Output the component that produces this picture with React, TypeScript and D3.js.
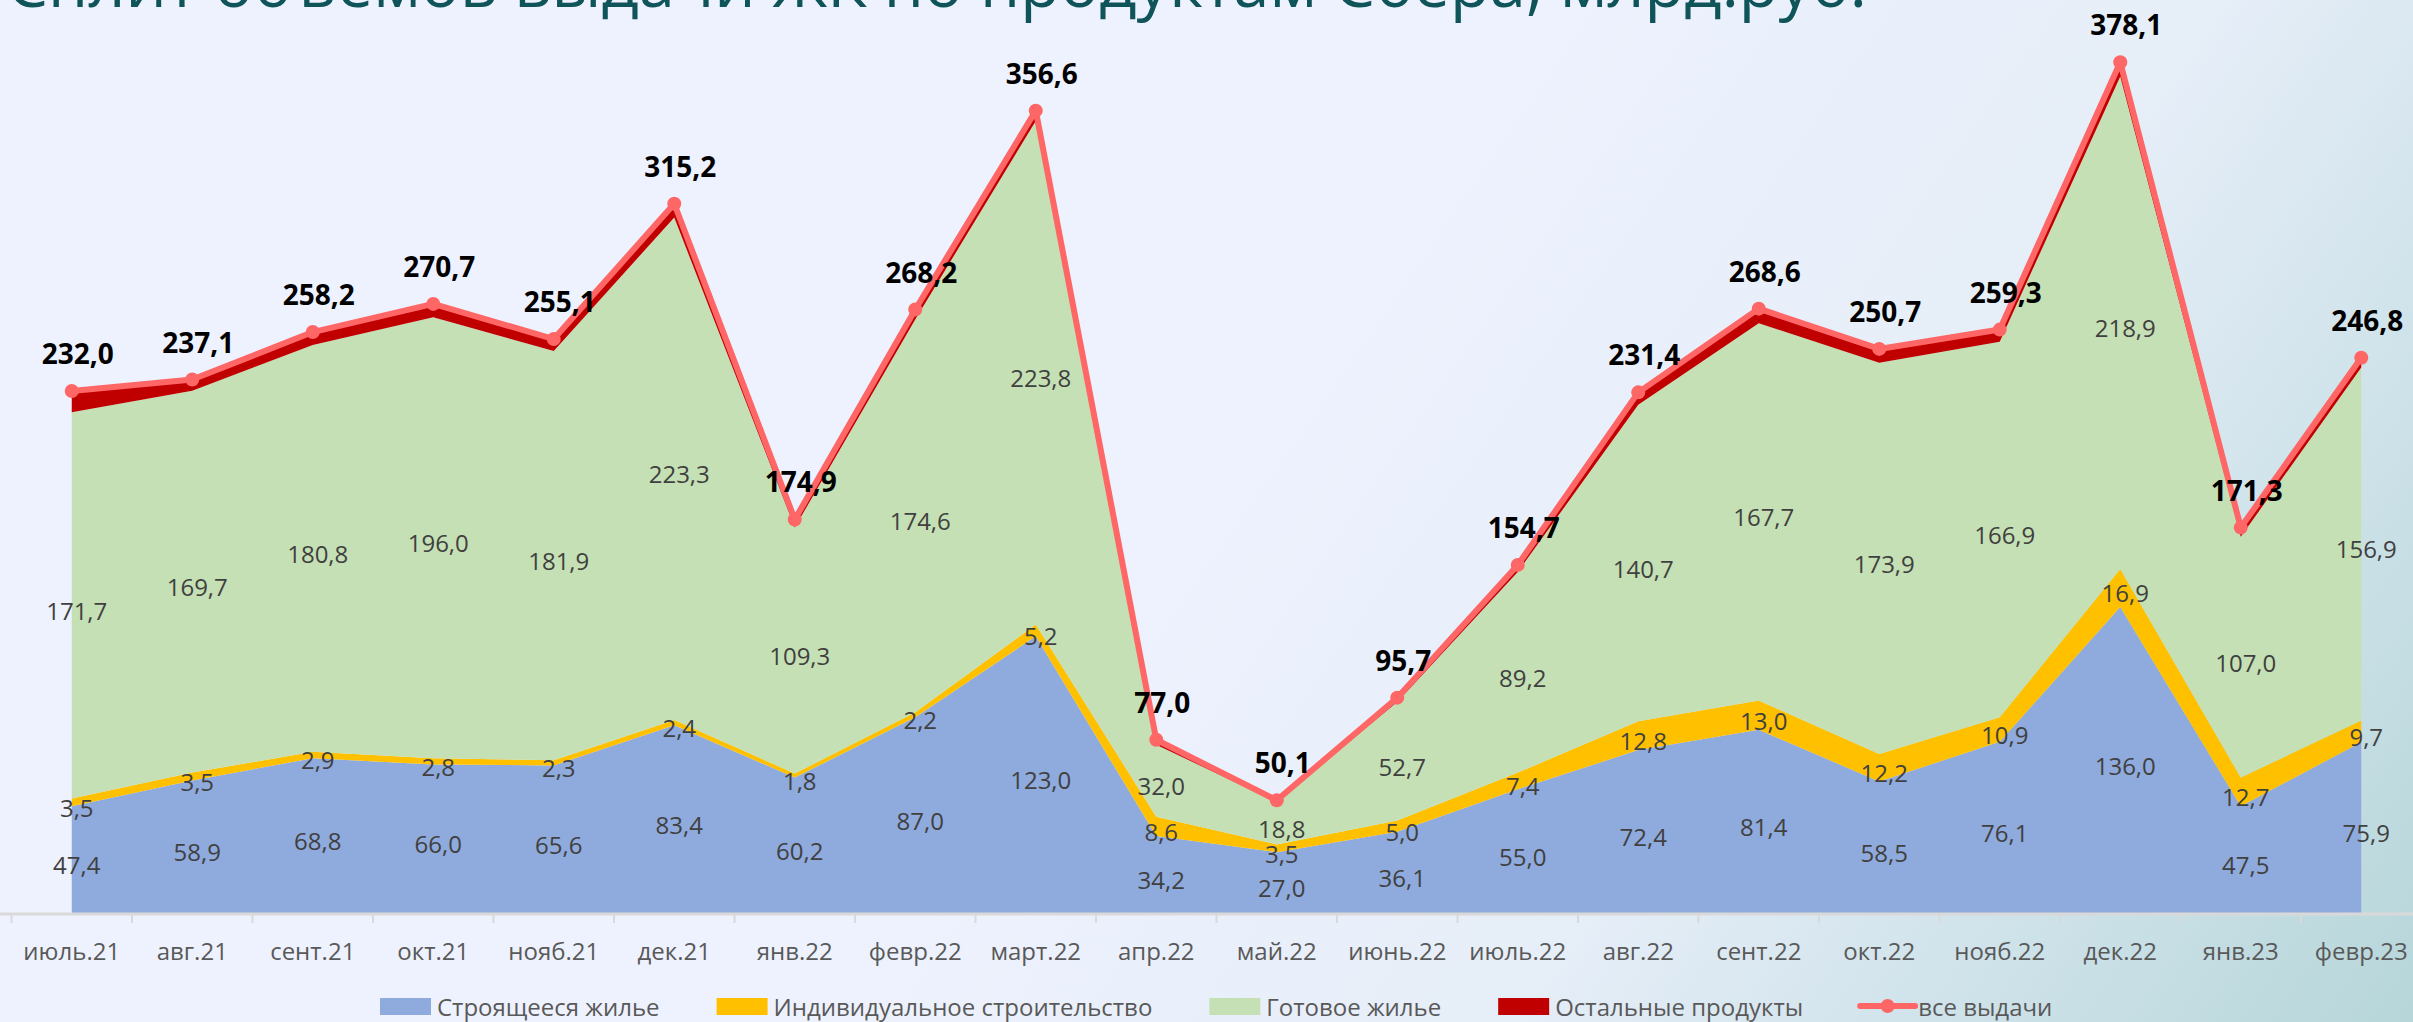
import React, { useEffect, useRef } from 'react';
import * as d3 from 'd3';

const title = 'Сплит объемов выдачи ЖК по продуктам Сбера, млрд.руб.';

const categories = [
  'июль.21', 'авг.21', 'сент.21', 'окт.21', 'нояб.21', 'дек.21', 'янв.22', 'февр.22', 'март.22', 'апр.22',
  'май.22', 'июнь.22', 'июль.22', 'авг.22', 'сент.22', 'окт.22', 'нояб.22', 'дек.22', 'янв.23', 'февр.23',
];

// Строящееся жилье
const building = [47.4, 58.9, 68.8, 66.0, 65.6, 83.4, 60.2, 87.0, 123.0, 34.2, 27.0, 36.1, 55.0, 72.4, 81.4, 58.5, 76.1, 136.0, 47.5, 75.9];
// Индивидуальное строительство
const individual = [3.5, 3.5, 2.9, 2.8, 2.3, 2.4, 1.8, 2.2, 5.2, 8.6, 3.5, 5.0, 7.4, 12.8, 13.0, 12.2, 10.9, 16.9, 12.7, 9.7];
// Готовое жилье
const ready = [171.7, 169.7, 180.8, 196.0, 181.9, 223.3, 109.3, 174.6, 223.8, 32.0, 18.8, 52.7, 89.2, 140.7, 167.7, 173.9, 166.9, 218.9, 107.0, 156.9];
// Остальные продукты (no labels on the chart, read as remainder)
const other = [9.4, 5.0, 5.7, 5.9, 5.3, 6.1, 3.6, 4.4, 4.6, 2.2, 0.8, 1.9, 3.1, 5.5, 6.5, 6.1, 5.4, 6.3, 4.1, 4.3];
// все выдачи
const total = [232.0, 237.1, 258.2, 270.7, 255.1, 315.2, 174.9, 268.2, 356.6, 77.0, 50.1, 95.7, 154.7, 231.4, 268.6, 250.7, 259.3, 378.1, 171.3, 246.8];

const seriesNames = ['Строящееся жилье', 'Индивидуальное строительство', 'Готовое жилье', 'Остальные продукты'];
const lineName = 'все выдачи';

const W = 2413;
const H = 1022;
const FONT = '"Open Sans", "DejaVu Sans", sans-serif';

const App = () => {
  const ref = useRef<SVGSVGElement>(null);

  useEffect(() => {
    const svg = d3.select(ref.current);
    svg.selectAll('*').remove();

    const colors = ['#8FAADC', '#FFC000', '#C5E0B4', '#C00000'];
    const lineColor = '#FF6666';
    const fmt = (v: number) => v.toFixed(1).replace('.', ',');

    // background
    const defs = svg.append('defs');
    const grad = defs.append('linearGradient')
      .attr('id', 'bg')
      .attr('gradientUnits', 'userSpaceOnUse')
      .attr('x1', 1300).attr('y1', 250).attr('x2', 2413).attr('y2', 1022);
    grad.append('stop').attr('offset', 0).attr('stop-color', '#EEF2FE');
    grad.append('stop').attr('offset', 0.45).attr('stop-color', '#E6EEF8');
    grad.append('stop').attr('offset', 1).attr('stop-color', '#B6D6DA');
    svg.append('rect').attr('width', W).attr('height', H).attr('fill', 'url(#bg)');

    // title, cut at the top like the slide
    svg.append('text')
      .attr('x', 7).attr('y', 7)
      .attr('font-family', FONT).attr('font-size', 65)
      .attr('fill', '#0F5459')
      .text(title);

    const x = d3.scaleBand().domain(categories).range([11.5, 11.5 + 120.5 * categories.length]);
    const cx = (c: string) => (x(c) as number) + x.bandwidth() / 2;
    const y = d3.scaleLinear().domain([0, 400]).range([913, 13]);

    const rows = categories.map((c, i) => ({
      cat: c,
      [seriesNames[0]]: building[i],
      [seriesNames[1]]: individual[i],
      [seriesNames[2]]: ready[i],
      [seriesNames[3]]: other[i],
    }));
    const stacked = d3.stack<any>().keys(seriesNames)(rows);

    const area = d3.area<any>()
      .x((d) => cx(d.data.cat))
      .y0((d) => y(d[0]))
      .y1((d) => y(d[1]));

    const g = svg.append('g');
    g.selectAll('path.area')
      .data(stacked)
      .enter()
      .append('path')
      .attr('class', 'area')
      .attr('d', (s) => area(s) as string)
      .attr('fill', (_, i) => colors[i]);

    // x axis
    const axis = svg.append('g');
    axis.append('line')
      .attr('x1', 0).attr('x2', W)
      .attr('y1', y(0) + 1).attr('y2', y(0) + 1)
      .attr('stroke', '#D9D9D9').attr('stroke-width', 3);
    axis.selectAll('line.tick')
      .data(categories)
      .enter()
      .append('line')
      .attr('class', 'tick')
      .attr('x1', (c) => x(c) as number).attr('x2', (c) => x(c) as number)
      .attr('y1', y(0) + 2).attr('y2', y(0) + 10)
      .attr('stroke', '#D9D9D9').attr('stroke-width', 2);
    axis.selectAll('text')
      .data(categories)
      .enter()
      .append('text')
      .attr('x', (c) => cx(c))
      .attr('y', 960)
      .attr('text-anchor', 'middle')
      .attr('font-family', FONT).attr('font-size', 24)
      .attr('fill', '#595959')
      .text((c) => c);

    // series value labels (first three series)
    const labelG = svg.append('g');
    stacked.slice(0, 3).forEach((s) => {
      labelG.selectAll(null)
        .data(s)
        .enter()
        .append('text')
        .attr('x', (d: any) => cx(d.data.cat) + 5)
        .attr('y', (d: any) => y((d[0] + d[1]) / 2) + 5)
        .attr('dominant-baseline', 'central')
        .attr('text-anchor', 'middle')
        .attr('font-family', FONT).attr('font-size', 24)
        .attr('fill', '#404040')
        .text((d: any) => fmt(d[1] - d[0]));
    });

    // total line
    const line = d3.line<number>()
      .x((_, i) => cx(categories[i]))
      .y((d) => y(d));
    svg.append('path')
      .attr('d', line(total) as string)
      .attr('fill', 'none')
      .attr('stroke', lineColor)
      .attr('stroke-width', 6)
      .attr('stroke-linejoin', 'round');
    svg.selectAll('circle.pt')
      .data(total)
      .enter()
      .append('circle')
      .attr('class', 'pt')
      .attr('cx', (_, i) => cx(categories[i]))
      .attr('cy', (d) => y(d))
      .attr('r', 7)
      .attr('fill', lineColor);
    svg.selectAll('text.total')
      .data(total)
      .enter()
      .append('text')
      .attr('class', 'total')
      .attr('x', (_, i) => cx(categories[i]) + 6)
      .attr('y', (d) => y(d) - 38)
      .attr('dominant-baseline', 'central')
      .attr('text-anchor', 'middle')
      .attr('font-family', FONT).attr('font-size', 28).attr('font-weight', 700)
      .attr('fill', '#000')
      .text((d) => fmt(d));

    // legend
    const ctx = document.createElement('canvas').getContext('2d') as CanvasRenderingContext2D;
    ctx.font = `24px ${FONT}`;
    const items = [
      ...seriesNames.map((n, i) => ({ name: n, color: colors[i], kind: 'rect' })),
      { name: lineName, color: lineColor, kind: 'line' },
    ];
    const legend = svg.append('g');
    let lx = 380;
    const ly = 1006;
    items.forEach((it) => {
      const sw = it.kind === 'rect' ? 51 : 55;
      if (it.kind === 'rect') {
        legend.append('rect')
          .attr('x', lx).attr('y', ly - 8).attr('width', sw).attr('height', 17)
          .attr('fill', it.color);
      } else {
        legend.append('line')
          .attr('x1', lx).attr('x2', lx + sw).attr('y1', ly).attr('y2', ly)
          .attr('stroke', it.color).attr('stroke-width', 6).attr('stroke-linecap', 'round');
        legend.append('circle')
          .attr('cx', lx + sw / 2).attr('cy', ly).attr('r', 7).attr('fill', it.color);
      }
      const tx = lx + sw + (it.kind === 'rect' ? 6 : 3);
      legend.append('text')
        .attr('x', tx).attr('y', ly)
        .attr('dominant-baseline', 'central')
        .attr('font-family', FONT).attr('font-size', 24)
        .attr('fill', '#595959')
        .text(it.name);
      lx = tx + ctx.measureText(it.name).width + 57;
    });
  }, []);

  return (
    <div style={{ position: 'fixed', left: 0, top: 0, width: W, height: H }}>
      <svg ref={ref} width={W} height={H}></svg>
    </div>
  );
};

export default App;
